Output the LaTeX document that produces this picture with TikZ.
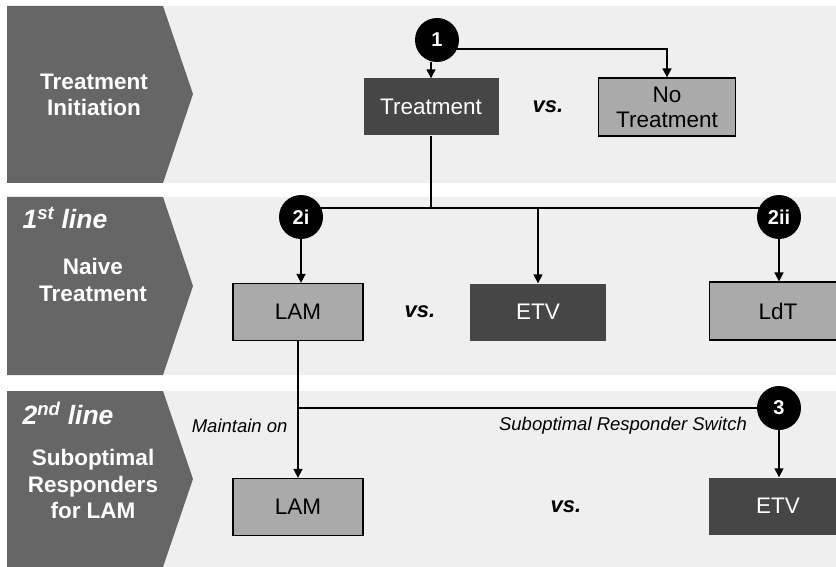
\documentclass[tikz,border=0pt]{standalone}
\usepackage{fontspec}
\setmainfont{Liberation Sans}
\usepackage{tikz}
\usetikzlibrary{arrows.meta, positioning}
\definecolor{bandgray}{HTML}{EFEFEF}
\definecolor{chevgray}{HTML}{666666}
\definecolor{boxdark}{HTML}{464646}
\definecolor{boxlight}{HTML}{AAAAAA}
\tikzstyle{arrow}=[-{Triangle[length=9pt,width=9pt]}, line width=1.5pt, color=black]
\tikzstyle{link}=[line width=1.5pt, color=black]
\tikzstyle{lightbox}=[rectangle, fill=boxlight, draw=black, line width=1.2pt, minimum width=130pt,
                      minimum height=57pt, align=center, font=\fontsize{22.5}{25}\selectfont]
\tikzstyle{darkbox}=[rectangle, fill=boxdark, text=white, minimum width=136pt,
                     minimum height=57pt, align=center, font=\fontsize{22.5}{25}\selectfont]
\tikzstyle{badge}=[circle, fill=black, text=white, minimum size=44pt, inner sep=0pt,
                   font=\fontsize{20}{22}\selectfont\bfseries]
\tikzstyle{vs}=[font=\fontsize{22}{24}\selectfont\bfseries\itshape]
\tikzstyle{note}=[font=\fontsize{18.5}{20}\selectfont\itshape]
\tikzstyle{phase}=[text=white, align=center, font=\fontsize{22.5}{26.5}\selectfont\bfseries]
\tikzstyle{linelabel}=[text=white, font=\fontsize{26.5}{28}\selectfont\bfseries\itshape]

\begin{document}
\begin{tikzpicture}[x=1pt, y=-1pt]
  \useasboundingbox (0,0) rectangle (836,567);
  \fill[white] (0,0) rectangle (836,567);

  % Bands and chevrons
  \foreach \top/\bot/\tip in {6/183/94, 197/375/286, 391/567/479}{
    \fill[bandgray] (7,\top) rectangle (836,\bot);
    \fill[chevgray] (7,\top) -- (163,\top) -- (193,\tip) -- (163,\bot) -- (7,\bot) -- cycle;
  }

  % Chevron texts
  \node[phase] (ph1) at (94,95) {Treatment\\Initiation};
  \node[linelabel, anchor=west] (ln1) at (19,218) {1\textsuperscript{st} line};
  \node[phase] (ph2) at (93,280) {Naive\\Treatment};
  \node[linelabel, anchor=west] (ln2) at (19,413) {2\textsuperscript{nd} line};
  \node[phase] (ph3) at (93,484) {Suboptimal\\Responders\\for LAM};

  % Treatment initiation
  \node[badge] (c1) at (437,40) {1};
  \node[darkbox, minimum width=135pt] (treat) at (431,107) {Treatment};
  \node[vs] (vs1) at (548,107) {vs.};
  \node[lightbox, minimum width=137pt, minimum height=58pt] (notreat) at (667,107) {No\\Treatment};

  % 1st line
  \node[badge] (c2i) at (301,217) {2i};
  \node[badge] (c2ii) at (779,217) {2ii};
  \node[lightbox] (lamA) at (298,312) {LAM};
  \node[vs] (vs2) at (420,312) {vs.};
  \node[darkbox] (etvA) at (538,312) {ETV};
  \node[lightbox, minimum width=137pt, minimum height=58pt] (ldt) at (778,311) {LdT};

  % 2nd line
  \node[badge] (c3) at (779,408) {3};
  \node[note, anchor=east] (keep) at (291,426) {Maintain on};
  \node[note] (switch) at (623,426) {Suboptimal Responder Switch};
  \node[lightbox] (lamB) at (298,507) {LAM};
  \node[vs] (vs3) at (566,507) {vs.};
  \node[darkbox, minimum width=138pt] (etvB) at (778,506) {ETV};

  % Connectors
  \draw[arrow] (c1.south -| treat.north) -- (treat.north);
  \draw[arrow] (c1.-24) -| (notreat.north);
  \draw[link] (c2i.24) -- (c2ii.156);
  \draw[link] (treat.south) -- (treat.south |- c2i.24);
  \draw[arrow] (etvA.north |- c2i.24) -- (etvA.north);
  \draw[arrow] (c2i.south) -- (c2i.south |- lamA.north);
  \draw[arrow] (c2ii.south) -- (c2ii.south |- ldt.north);
  \draw[arrow] (lamA.south) -- (lamB.north);
  \draw[link] (lamA.south |- c3.west) -- (c3.west);
  \draw[arrow] (c3.south) -- (c3.south |- etvB.north);
\end{tikzpicture}
\end{document}
